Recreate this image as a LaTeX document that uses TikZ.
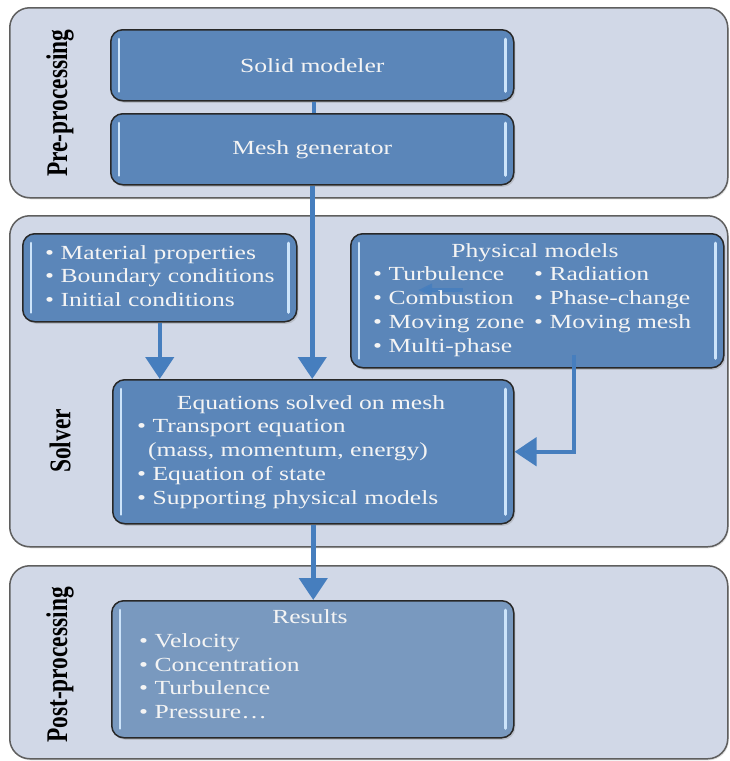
\documentclass[tikz,border=0pt]{standalone}
\usepackage{fontspec}
\setmainfont{Liberation Serif}
\newfontfamily\bodyfont{Liberation Serif}[FakeStretch=1.28]
\newfontfamily\labfont{Liberation Serif}[FakeStretch=0.78]
\usetikzlibrary{arrows.meta,shadows,calc}
\definecolor{panelfill}{RGB}{209,216,231}
\definecolor{panelline}{RGB}{95,95,95}
\definecolor{boxfill}{RGB}{91,134,185}
\definecolor{resfill}{RGB}{121,153,191}
\definecolor{boxline}{RGB}{40,40,40}
\definecolor{hilite}{RGB}{205,228,250}
\definecolor{arrowblue}{RGB}{70,126,190}
\definecolor{txt}{RGB}{244,244,244}
\tikzset{
  panel/.style={draw=panelline, line width=1.5pt, fill=panelfill, rounded corners=20pt,
    rectangle, inner sep=0pt, anchor=north west,
    drop shadow={opacity=0.25, shadow xshift=1pt, shadow yshift=-1.5pt}},
  bluebox/.style={draw=boxline, line width=1.5pt, fill=boxfill, rounded corners=12pt,
    rectangle, inner sep=0pt, anchor=north west,
    drop shadow={opacity=0.3, shadow xshift=1.5pt, shadow yshift=-2pt}},
  hiline/.style={draw=hilite, line width=2.6pt, line cap=round},
  bodytext/.style={text=txt, font=\bodyfont\fontsize{20}{24}\selectfont, inner sep=0pt},
  itemtext/.style={bodytext, anchor=base west},
  titletext/.style={bodytext, anchor=base},
  sidelabel/.style={font=\labfont\bfseries\fontsize{30}{30}\selectfont, rotate=90, inner sep=0pt},
  arr/.style={draw=arrowblue, line width=4.5pt, -{Triangle[width=28pt,length=22pt]}},
  plainlink/.style={draw=arrowblue, line width=4pt},
}
\newcommand\boxhl[1]{%
  \draw[hiline] ([xshift=9pt,yshift=-10pt]#1.north west) -- ([xshift=9pt,yshift=10pt]#1.south west);
  \draw[hiline] ([xshift=-9pt,yshift=-10pt]#1.north east) -- ([xshift=-9pt,yshift=10pt]#1.south east);}
\begin{document}
\begin{tikzpicture}[x=1pt,y=-1pt]
\useasboundingbox (0,0) rectangle (730,761);
\fill[white] (0,0) rectangle (730,761);

% panels
\node[panel, minimum width=718pt, minimum height=190pt] (pre) at (9,7) {};
\node[panel, minimum width=718pt, minimum height=331pt] (solv) at (9,215) {};
\node[panel, minimum width=718pt, minimum height=193pt] (post) at (9,565) {};

\node[sidelabel] (prelab) at (60,103) {Pre-processing};
\node[sidelabel] (solvlab) at (60,441) {Solver};
\node[sidelabel] (postlab) at (60,665) {Post-processing};

% boxes
\node[bluebox, minimum width=403pt, minimum height=71pt] (solid) at (110,29) {};
\node[bluebox, minimum width=403pt, minimum height=71pt] (mesh) at (110,113) {};
\node[bluebox, minimum width=274pt, minimum height=88pt] (mat) at (22,233) {};
\node[bluebox, minimum width=373pt, minimum height=134pt] (phys) at (350,233) {};
\node[bluebox, minimum width=401pt, minimum height=144pt] (eq) at (112,379) {};
\node[bluebox, fill=resfill, minimum width=402pt, minimum height=137pt] (res) at (111,600) {};
\boxhl{solid}\boxhl{mesh}\boxhl{mat}\boxhl{phys}\boxhl{eq}\boxhl{res}

% connectors
\draw[plainlink] ([xshift=1.5pt]solid.south) -- ([xshift=1.5pt]mesh.north);
\draw[arr] (mesh.south) -- (mesh.south |- eq.north);
\draw[arr] (mat.south) -- (mat.south |- eq.north);
\draw[arr] ([xshift=36.5pt,yshift=14pt]phys.south) |- (eq.east);
\draw[arr] (eq.south) -- (eq.south |- res.north);
\coordinate (stray1) at (463,290);
\coordinate (stray2) at (418,290);
\draw[draw=arrowblue, opacity=0.85, line width=3.5pt, -{Triangle[width=12pt,length=14pt]}] (stray1) -- (stray2);

% texts
\node[bodytext] (solidt) at (solid.center) {Solid modeler};
\node[bodytext] (mesht) at (mesh.center) {Mesh generator};

\node[itemtext] (m1) at (45,259) {• Material properties};
\node[itemtext] (m2) at (45,282) {• Boundary conditions};
\node[itemtext] (m3) at (45,306) {• Initial conditions};

\node[titletext] (pt) at (535,257) {Physical models};
\node[itemtext] (p1) at (373,280) {• Turbulence};
\node[itemtext] (p2) at (373,304) {• Combustion};
\node[itemtext] (p3) at (373,328) {• Moving zone};
\node[itemtext] (p4) at (373,352) {• Multi-phase};
\node[itemtext] (p5) at (534,280) {• Radiation};
\node[itemtext] (p6) at (534,304) {• Phase-change};
\node[itemtext] (p7) at (534,328) {• Moving mesh};

\node[titletext] (et) at (311,409) {Equations solved on mesh};
\node[itemtext] (e1) at (137,432) {• Transport equation};
\node[itemtext] (e2) at (148,456) {(mass, momentum, energy)};
\node[itemtext] (e3) at (137,480) {• Equation of state};
\node[itemtext] (e4) at (137,504) {• Supporting physical models};

\node[titletext] (rt) at (310,623) {Results};
\node[itemtext] (r1) at (139,647) {• Velocity};
\node[itemtext] (r2) at (139,671) {• Concentration};
\node[itemtext] (r3) at (139,694) {• Turbulence};
\node[itemtext] (r4) at (139,718) {• Pressure…};
\end{tikzpicture}
\end{document}
